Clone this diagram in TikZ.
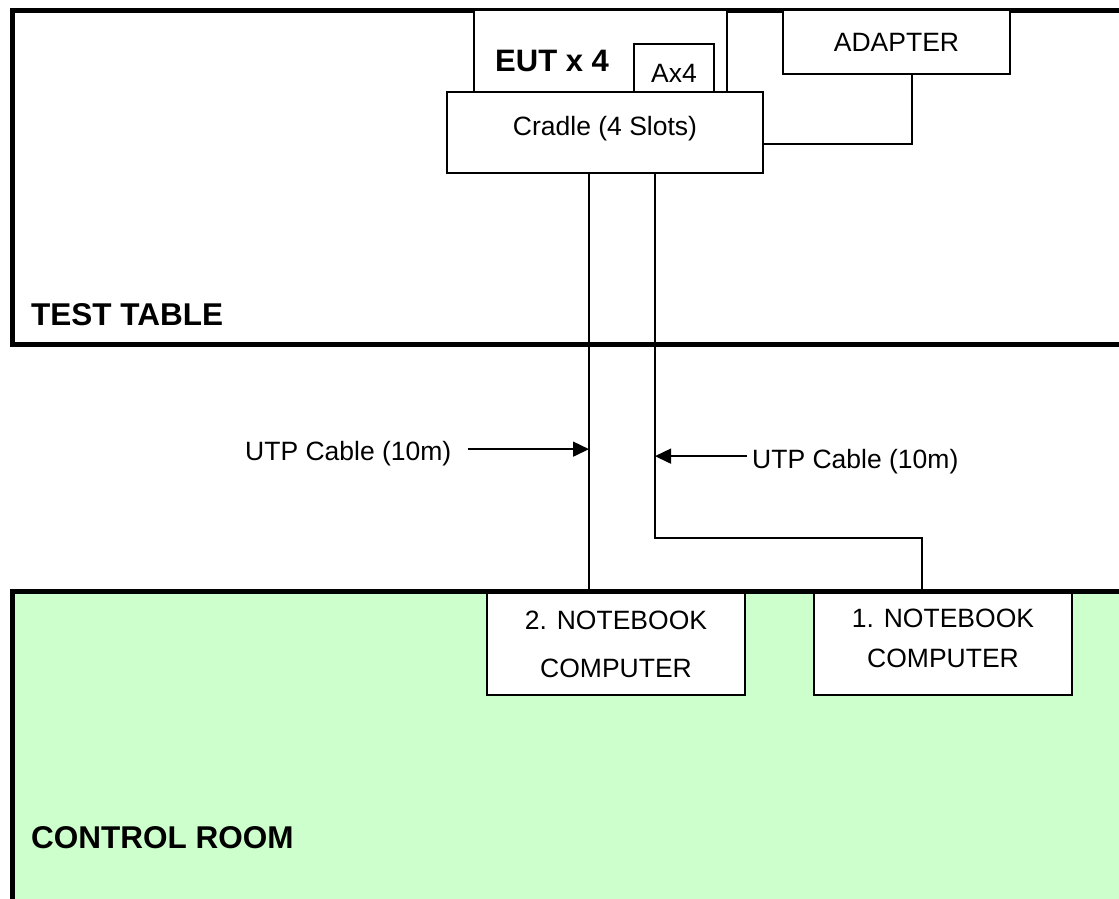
\documentclass[tikz,border=0pt]{standalone}
\usepackage{fontspec}
\setmainfont{Liberation Sans}
\usetikzlibrary{arrows.meta}
\definecolor{roomgreen}{HTML}{CCFFCC}

\begin{document}
\begin{tikzpicture}[x=1pt,y=-1pt,
  unit/.style={draw,line width=1.5pt,fill=white,inner sep=0pt,align=center,font=\fontsize{26.5}{40}\selectfont},
  area/.style={draw,line width=5pt},
  arealbl/.style={anchor=base west,inner sep=0pt,font=\fontsize{31.5}{38}\selectfont\bfseries},
  cablelbl/.style={anchor=base west,inner sep=0pt,font=\fontsize{26.5}{32}\selectfont},
  cable/.style={line width=1.5pt},
  tip/.style={-{Triangle[length=16pt,width=15pt]}}]
\useasboundingbox (0,0) rectangle (1119,899);
\draw[area,fill=roomgreen] (12.5,591) rectangle (1140,920);
\draw[area] (12.5,10.5) rectangle (1140,344);
\node[arealbl] (tbl) at (31,325){TEST TABLE};\node[arealbl] (room) at (31,848){CONTROL ROOM};

\node[unit,minimum width=253pt,minimum height=82pt] (eut) at (600.5,51){};
\node[arealbl,font=\fontsize{31}{38}\selectfont\bfseries] (eutlbl) at (495,72){EUT x 4};
\node[unit,minimum width=80pt,minimum height=48pt,text height=28pt] (ax) at (674,68){Ax4};
\node[unit,minimum width=316pt,minimum height=81pt,text depth=14pt] (cradle) at (605,132.5){Cradle (4 Slots)};
\node[unit,minimum width=227pt,minimum height=64pt] (adapter) at (896.5,42){ADAPTER};
\node[unit,minimum width=258pt,minimum height=102pt] (nbB) at (616,644){2. NOTEBOOK\\[8pt]COMPUTER};
\node[unit,minimum width=258pt,minimum height=102pt,text depth=11pt] (nbA) at (943,644){1. NOTEBOOK\\COMPUTER};

\coordinate (cabB) at ([xshift=-16pt]cradle.south);\coordinate (cabA) at ([xshift=50pt]cradle.south);
\draw[cable] (cabB) -- (cabB |- nbB.north);
\draw[cable] (cabA) -- ++(0,364) -| ([xshift=-21pt]nbA.north);
\draw[cable] ([xshift=15.5pt]adapter.south) |- ([yshift=-11.5pt]cradle.east);

\node[cablelbl] (utpB) at (245,460){UTP Cable (10m)};
\node[cablelbl] (utpA) at (752,468){UTP Cable (10m)};
\draw[cable,tip] ([xshift=16pt,yshift=4pt]utpB.east) coordinate (pB) -- (pB -| cabB);
\draw[cable,tip] ([xshift=-5pt,yshift=5pt]utpA.west) coordinate (pA) -- (pA -| cabA);
\end{tikzpicture}
\end{document}
